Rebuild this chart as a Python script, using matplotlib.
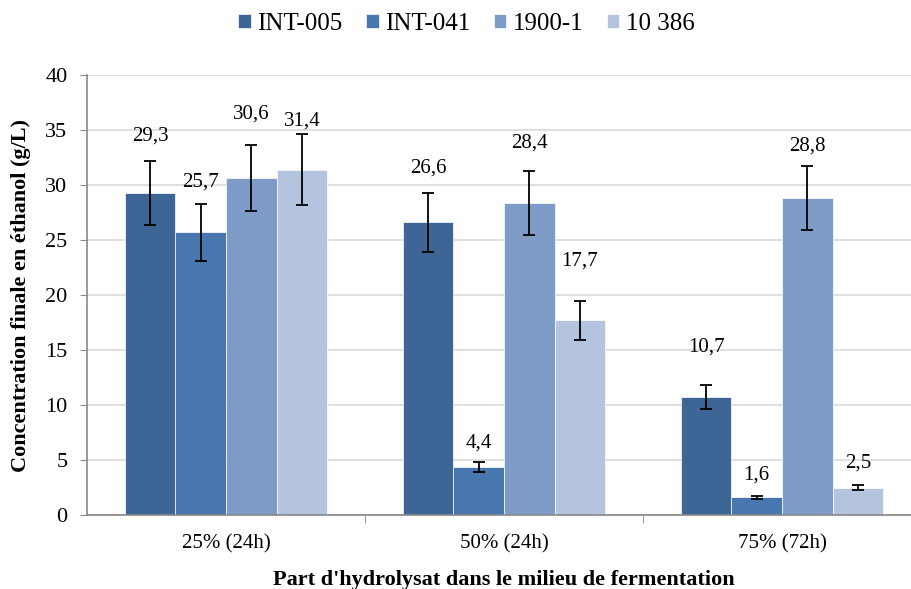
import matplotlib.pyplot as plt
import numpy as np

categories = ["25% (24h)", "50% (24h)", "75% (72h)"]
series = ["INT-005", "INT-041", "1900-1", "10 386"]
values = {
    "INT-005": [29.3, 26.6, 10.7],
    "INT-041": [25.7, 4.4, 1.6],
    "1900-1": [30.6, 28.4, 28.8],
    "10 386": [31.4, 17.7, 2.5],
}
errors = {
    "INT-005": [2.9, 2.7, 1.1],
    "INT-041": [2.6, 0.45, 0.15],
    "1900-1": [3.0, 2.9, 2.9],
    "10 386": [3.2, 1.8, 0.25],
}
colors = ["#3D6596", "#4877B0", "#7F9CC8", "#B4C3DE"]

# layout: gap (data units) between the top of each error bar and its label centre
label_gap = {
    "INT-005": [2.25, 2.2, 3.5],
    "INT-041": [2.0, 1.7, 1.85],
    "1900-1": [2.85, 2.5, 1.8],
    "10 386": [1.2, 3.6, 1.95],
}

plt.rcParams['font.family'] = ['Liberation Serif', 'DejaVu Serif']

fig = plt.figure(figsize=(9.11, 5.89), dpi=100)
W, H = 911, 589
left, right, top, bottom = 87, 921, 75, 515
ax = fig.add_axes([left / W, 1 - bottom / H, (right - left) / W, (bottom - top) / H])

x = np.arange(len(categories))
bw = 0.182
for i, s in enumerate(series):
    xs = x + (i - 1.5) * bw
    ax.bar(xs, values[s], width=bw, color=colors[i], edgecolor='white', linewidth=0.5,
           label=s, zorder=2)
    ax.errorbar(xs, values[s], yerr=errors[s], fmt='none', ecolor='black',
                elinewidth=1.3, capsize=4.5, capthick=1.3, zorder=3)
    for xv, v, e, g in zip(xs, values[s], errors[s], label_gap[s]):
        ax.text(xv, v + e + g, f"{v:.1f}".replace('.', ','), ha='center', va='center',
                fontsize=15)

ax.set_xlim(-0.5, len(categories) - 0.5)
ax.set_ylim(0, 40)
ax.set_yticks(range(0, 41, 5))
ax.yaxis.grid(True, color='#D9D9D9', linewidth=1.2, zorder=0)
ax.set_axisbelow(True)
ax.tick_params(axis='y', labelsize=16, direction='out', length=5, color='#888888', pad=9)
ax.set_xticks(x)
ax.set_xticklabels(categories, fontsize=15)
ax.tick_params(axis='x', length=0, pad=14)
ax.set_xticks(np.arange(0.5, len(categories) - 0.5, 1.0), minor=True)
ax.tick_params(axis='x', which='minor', length=6, direction='out', color='#888888')
for sp in ['top', 'right']:
    ax.spines[sp].set_visible(False)
for sp in ['left', 'bottom']:
    ax.spines[sp].set_color('#888888')
    ax.spines[sp].set_linewidth(1.2)

ax.set_ylabel("Concentration finale en éthanol (g/L)", fontsize=16, fontweight='bold', labelpad=10)
ax.set_xlabel("Part d'hydrolysat dans le milieu de fermentation", fontsize=16, fontweight='bold', labelpad=12)

fig.legend(*ax.get_legend_handles_labels(), loc='center', bbox_to_anchor=(0.512, 1 - 24 / H),
           ncol=4, frameon=False, fontsize=18, handlelength=0.5, handleheight=0.5,
           handletextpad=0.25, columnspacing=0.95)

fig.savefig("out.png", dpi=100)
